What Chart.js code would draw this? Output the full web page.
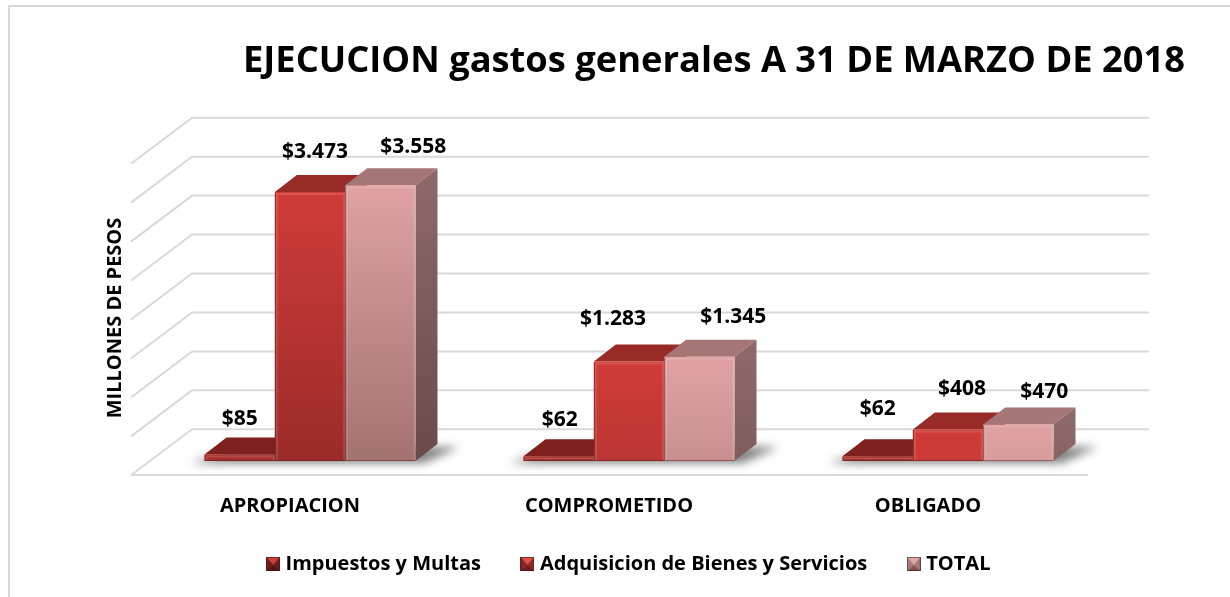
<!DOCTYPE html>
<html><head><meta charset="utf-8">
<style>html,body{margin:0;padding:0;background:#fff}#w{width:1230px;height:597px;position:relative}canvas{display:block}</style>
<script src="https://cdn.jsdelivr.net/npm/chart.js@4"></script>
</head><body><div id="w"><canvas id="c" width="1230" height="597"></canvas></div>
<script>
const categories = ['APROPIACION','COMPROMETIDO','OBLIGADO'];
const impuestos = [85,62,62];
const adquisicion = [3473,1283,408];
const total = [3558,1345,470];
const seriesNames = ['Impuestos y Multas','Adquisicion de Bienes y Servicios','TOTAL'];
const axisTitle = 'MILLONES DE PESOS';
const chartTitle = 'EJECUCION gastos generales A 31 DE MARZO DE 2018';
// hand-placed data-label offsets [dx,dy] from each bar's top centre, per series
const labelShift = [
 [[0,-35],[1,-36],[0,-47]],
 [[5,-40],[-16,-43],[14,-40]],
 [[33,-38],[34,-40],[26,-33]]
];
const FONT='"Open Sans", sans-serif';
const DX=22, DY=-17;          // bar depth
const WALL_DX=41.5, WALL_DY=-31.7, FRONT_DX=-19.5, FRONT_DY=14; // wall/floor offsets from the bar plane
const palette=[
 {top:'#a8302b',bot:'#a02825',cap:'#7e201d',side:'#6e1b18'},
 {top:'#d03c38',bot:'#9a2b29',cap:'#982b28',side:'#7a2220'},
 {top:'#e0a2a2',bot:'#a57272',cap:'#a67575',side:['#8c6868','#6a4a4a']}
];
function frontGrad(c,i){
  const {chart}=c; const y=chart.scales.y;
  if(!y||!chart.chartArea||c.raw===undefined) return palette[i].top;
  const t=y.getPixelForValue(c.raw);
  const g=chart.ctx.createLinearGradient(0,t,0,t+272);
  g.addColorStop(0,palette[i].top); g.addColorStop(1,palette[i].bot); return g;
}
function marker(i){
  const s=14,cv=document.createElement('canvas'); cv.width=s;cv.height=s;
  const x=cv.getContext('2d');
  const cols=i===2?['#c98e8e','#dca8a8','#7d5555','#a87878','#a87878']:i===0?['#9c2a26','#c8403a','#4e1715','#6e1f1d','#6e1f1d']:['#b8322e','#e0504c','#6a1f1d','#8a2825','#8a2825'];
  x.fillStyle=cols[0];x.fillRect(0,0,s,s);
  const tri=(a,b,c2,d,col)=>{x.fillStyle=col;x.beginPath();x.moveTo(a,b);x.lineTo(c2,d);x.lineTo(s/2,s/2+1);x.closePath();x.fill();};
  tri(0,0,s,0,cols[1]);tri(0,s,s,s,cols[2]);tri(0,0,0,s,cols[3]);tri(s,0,s,s,cols[4]);
  x.strokeStyle='rgba(60,20,20,.55)';x.strokeRect(.5,.5,s-1,s-1);
  return cv;
}
const scene={
  id:'scene',
  afterLayout(chart){
    if(chart.titleBlock){chart.titleBlock.left=243;chart.titleBlock.right=1185;}
    if(chart.legend){chart.legend.left=87;chart.legend.right=1174;}
    const y=chart.scales.y; y.bottom=y.top+2*(318-y.top);
    chart.scales.x.bottom=chart.scales.x.top+80;
  },
  beforeDraw(chart){
    const ctx=chart.ctx,y=chart.scales.y,a=chart.chartArea;
    ctx.save();
    ctx.strokeStyle='#d9d9d9';ctx.lineWidth=2;
    ctx.beginPath();ctx.moveTo(9,597);ctx.lineTo(9,6);ctx.lineTo(1230,6);ctx.stroke();
    const k=311.6/(a.bottom-a.top);
    y.ticks.forEach(t=>{
      const p=a.bottom-(a.bottom-y.getPixelForValue(t.value))*k+WALL_DY;
      const x0=a.left+WALL_DX, x1=a.right+WALL_DX;
      ctx.beginPath();ctx.moveTo(x0-61,p+46);ctx.lineTo(x0,p);ctx.lineTo(x1,p);ctx.stroke();
    });
    ctx.beginPath();ctx.moveTo(a.left+FRONT_DX,a.bottom+FRONT_DY);ctx.lineTo(a.right+FRONT_DX,a.bottom+FRONT_DY);ctx.stroke();
    ctx.restore();
  },
  beforeDatasetsDraw(chart){
    const ctx=chart.ctx,b=chart.scales.y.getPixelForValue(0);
    ctx.save();
    categories.forEach((_,j)=>{
      const l=chart.getDatasetMeta(0).data[j],r=chart.getDatasetMeta(2).data[j];
      const x0=l.x-l.width/2,x1=r.x+r.width/2;
      ctx.filter='blur(5px)';ctx.fillStyle='rgba(40,40,40,.6)';
      ctx.beginPath();ctx.moveTo(x0-14,b+2);ctx.lineTo(x1+8,b+2);ctx.lineTo(x1+DX+22,b+DY+3);ctx.lineTo(x0+DX+14,b+DY+3);ctx.closePath();ctx.fill();
      ctx.filter='none';
    });
    categories.forEach((_,j)=>{
      palette.forEach((p,i)=>{
        const e=chart.getDatasetMeta(i).data[j];
        const l=e.x-e.width/2,r=e.x+e.width/2,t=e.y;
        let side=p.side;
        if(Array.isArray(side)){const g=ctx.createLinearGradient(0,t,0,t+272);g.addColorStop(0,side[0]);g.addColorStop(1,side[1]);side=g;}
        ctx.fillStyle=side;
        ctx.beginPath();ctx.moveTo(r,t);ctx.lineTo(r+DX,t+DY);ctx.lineTo(r+DX,b+DY);ctx.lineTo(r,b);ctx.closePath();ctx.fill();
        ctx.fillStyle=p.cap;
        ctx.beginPath();ctx.moveTo(l,t);ctx.lineTo(l+DX,t+DY);ctx.lineTo(r+DX,t+DY);ctx.lineTo(r,t);ctx.closePath();ctx.fill();
      });
    });
    ctx.restore();
  },
  afterDatasetsDraw(chart){
    const ctx=chart.ctx,b=chart.scales.y.getPixelForValue(0);
    ctx.save();
    chart.data.datasets.forEach((d,i)=>{
      chart.getDatasetMeta(i).data.forEach(e=>{
        const l=e.x-e.width/2,r=e.x+e.width/2;
        ctx.strokeStyle='rgba(255,255,255,.13)';ctx.lineWidth=2;
        ctx.beginPath();ctx.moveTo(l+2,b-1);ctx.lineTo(l+2,e.y+2);ctx.lineTo(r-1,e.y+2);ctx.lineTo(r-1,b-1);ctx.stroke();
        ctx.strokeStyle='rgba(70,20,20,.45)';ctx.lineWidth=1;
        ctx.beginPath();ctx.moveTo(l+.5,e.y+1);ctx.lineTo(l+.5,b-.5);ctx.lineTo(r,b-.5);ctx.stroke();
      });
    });
    ctx.font='bold 21px '+FONT;ctx.fillStyle='#000';ctx.textAlign='center';ctx.textBaseline='middle';
    chart.data.datasets.forEach((d,i)=>{
      chart.getDatasetMeta(i).data.forEach((e,j)=>{
        const txt='$'+String(d.data[j]).replace(/\B(?=(\d{3})+$)/g,'.');
        ctx.fillText(txt,e.x+labelShift[i][j][0],e.y+labelShift[i][j][1]);
      });
    });
    ctx.restore();
  }
};
const mk=(i,data)=>({label:seriesNames[i],data,
  backgroundColor:c=>frontGrad(c,i),borderWidth:0,
  barPercentage:1,categoryPercentage:0.6614,pointStyle:marker(i)});
new Chart(document.getElementById('c'),{
  type:'bar',
  data:{labels:categories,datasets:[mk(0,impuestos),mk(1,adquisicion),mk(2,total)]},
  plugins:[scene],
  options:{
    responsive:false,animation:false,
    layout:{padding:{left:103,right:122.5,top:0,bottom:13}},
    plugins:{
      tooltip:{enabled:false},
      title:{display:true,text:chartTitle,align:'end',color:'#000',
        font:{family:FONT,size:36.3,weight:'bold'},padding:{top:40,bottom:67.5}},
      legend:{position:'bottom',labels:{usePointStyle:true,pointStyleWidth:5,color:'#000',padding:44,
        font:{family:FONT,size:20,weight:'bold'},boxHeight:14}}
    },
    scales:{
      x:{grid:{display:false},border:{display:false},
        afterFit(s){s.height=49;},
        ticks:{color:'#000',labelOffset:-20,padding:25,maxRotation:0,autoSkip:false,font:{family:FONT,size:20,weight:'bold'}}},
      y:{min:0,max:4000,
        afterFit(s){s.width=47.5;},
        ticks:{display:false,stepSize:500},grid:{display:false},border:{display:false},
        title:{display:true,text:axisTitle,color:'#000',font:{family:FONT,size:20,weight:'bold'},padding:0}}
    }
  }
});
</script></body></html>
